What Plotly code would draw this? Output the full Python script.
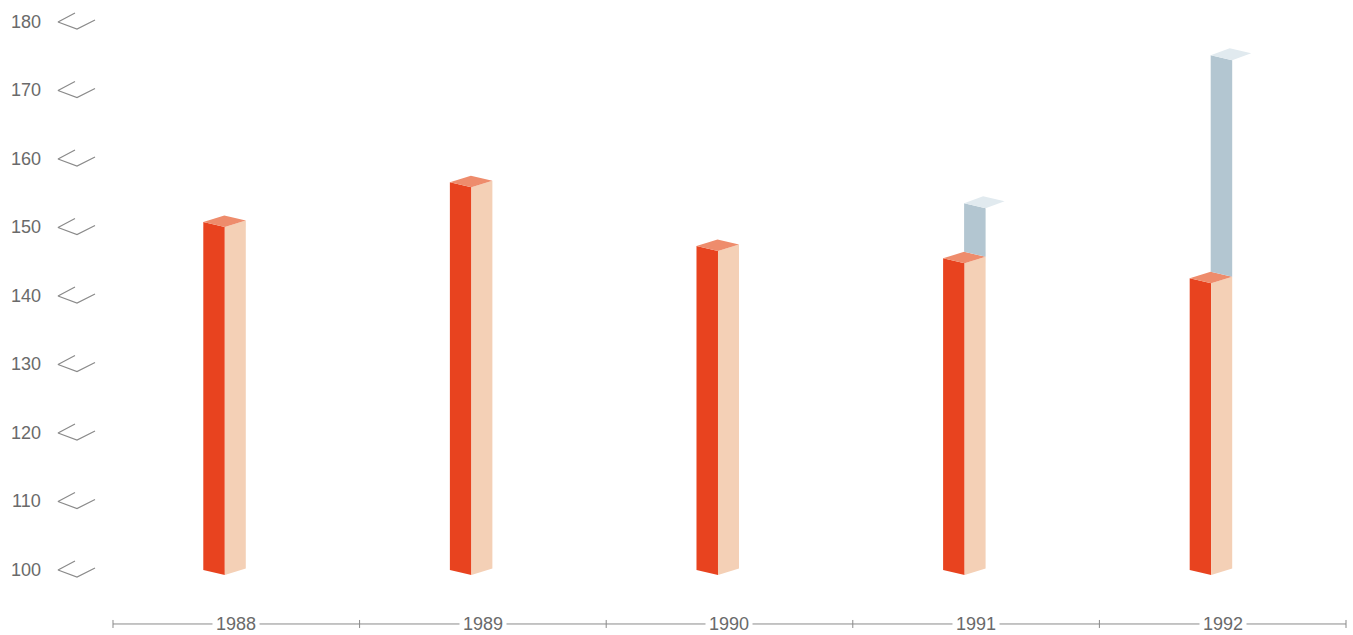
import plotly.graph_objects as go

# ---- data ----
years = ["1988", "1989", "1990", "1991", "1992"]
red_values = [150.8, 156.6, 147.3, 145.5, 142.6]
blue_values = [None, None, None, 152.6, 174.2]
y_ticks = [100, 110, 120, 130, 140, 150, 160, 170, 180]
base_value = 100

# ---- canvas / axis set-up ----
W, H = 1353, 635
X0, X1 = -0.9582, 4.5284
Y0, Y1 = 90.51, 183.21
DX = (X1 - X0) / W      # data units per pixel (x)
DY = (Y1 - Y0) / H      # data units per pixel (y)

RED = "#E8431F"
PEACH = "#F4D0B6"
SALMON = "#EE8C6C"
BLUE = "#B3C6D1"
FLAP = "#E1EAEF"
GREY = "#8a8a8a"
TXT = "#6a6a6a"

fig = go.Figure()


def poly(xs, ys, color):
    fig.add_trace(go.Scatter(
        x=xs + [xs[0]], y=ys + [ys[0]], mode="lines", fill="toself",
        fillcolor=color, line=dict(width=0, color=color),
        hoverinfo="skip", showlegend=False))


# bar geometry (pixel offsets converted to data units)
OFF = -33 * DX          # front-left corner offset from category centre
FW = 21.5 * DX          # front face width
FS = 5 * DY             # front face slope (down to the right)
SW = 21 * DX            # side face width
SS = 6.5 * DY           # side face rise
FLX, FLY = 19 * DX, 7 * DY   # flap offset

for i, (v, b) in enumerate(zip(red_values, blue_values)):
    xl = i + OFF
    xr = xl + FW
    xs = xr + SW
    # front face
    poly([xl, xr, xr, xl], [v, v - FS, base_value - FS, base_value], RED)
    # side face
    poly([xr, xs, xs, xr],
         [v - FS, v - FS + SS, base_value - FS + SS, base_value - FS], PEACH)
    # top face
    poly([xl, xr, xs, xl + SW], [v, v - FS, v - FS + SS, v + SS], SALMON)
    if b is not None:
        bx0, bx1 = xl + SW, xs
        # back panel
        poly([bx0, bx1, bx1, bx0],
             [v + SS, v - FS + SS, b - FS + SS, b + SS], BLUE)
        # top flap
        poly([bx0, bx1, bx1 + FLX, bx0 + FLX],
             [b + SS, b - FS + SS, b - FS + SS + FLY, b + SS + FLY], FLAP)

# y-axis labels and chevrons
for t in y_ticks:
    fig.add_annotation(x=X0 + 43 * DX, y=t, text=str(t), xanchor="right",
                       yanchor="middle", showarrow=False,
                       font=dict(family="Liberation Sans, Arial", size=18, color=TXT))
    cx = [X0 + 75 * DX, X0 + 58 * DX, X0 + 77 * DX, X0 + 95 * DX]
    cy = [t + 9 * DY, t, t - 7 * DY, t + 2 * DY]
    fig.add_trace(go.Scatter(x=cx, y=cy, mode="lines",
                             line=dict(color=GREY, width=1.2),
                             hoverinfo="skip", showlegend=False))

# x-axis line with ticks and labels
axis_y = 92.12
n = len(years)
fig.add_shape(type="line", x0=-0.5, x1=n - 0.5, y0=axis_y, y1=axis_y,
              line=dict(color=GREY, width=1))
for k in range(n + 1):
    fig.add_shape(type="line", x0=k - 0.5, x1=k - 0.5,
                  y0=axis_y - 4 * DY, y1=axis_y + 4 * DY,
                  line=dict(color=GREY, width=1))
for i, yr in enumerate(years):
    fig.add_annotation(x=i, y=axis_y, text=yr, showarrow=False,
                       xanchor="center", yanchor="middle",
                       bgcolor="white", borderpad=3,
                       font=dict(family="Liberation Sans, Arial", size=18, color=TXT))

fig.update_layout(
    width=W, height=H, margin=dict(l=0, r=0, t=0, b=0),
    paper_bgcolor="white", plot_bgcolor="white",
    xaxis=dict(range=[X0, X1], visible=False, fixedrange=True),
    yaxis=dict(range=[Y0, Y1], visible=False, fixedrange=True),
)

fig.write_html("out.html", config={"displayModeBar": False},
               post_script="document.body.style.margin='0';")
